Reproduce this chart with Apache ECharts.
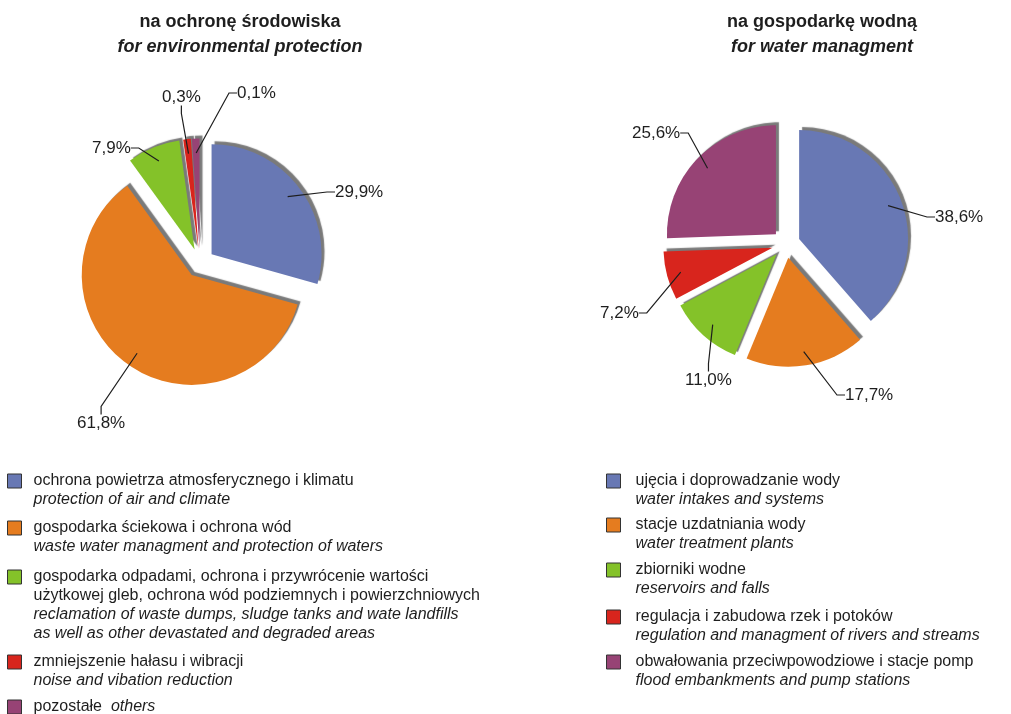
<!DOCTYPE html>
<html><head><meta charset="utf-8">
<script src="https://cdn.jsdelivr.net/npm/echarts@6/dist/echarts.min.js"></script>
<style>html,body{margin:0;padding:0;background:#fff}#c{width:1011px;height:714px}</style>
</head><body><div id="c"></div>
<script>
// ---- data ----
const envTitle = ['na ochronę środowiska', 'for environmental protection'];
const waterTitle = ['na gospodarkę wodną', 'for water managment'];

const envCategoriesPl = [
  'ochrona powietrza atmosferycznego i klimatu',
  'gospodarka ściekowa i ochrona wód',
  'gospodarka odpadami, ochrona i przywrócenie wartości\nużytkowej gleb, ochrona wód podziemnych i powierzchniowych',
  'zmniejszenie hałasu i wibracji',
  'pozostałe'
];
const envCategoriesEn = [
  'protection of air and climate',
  'waste water managment and protection of waters',
  'reclamation of waste dumps, sludge tanks and wate landfills\nas well as other devastated and degraded areas',
  'noise and vibation reduction',
  'others'
];
const envValues = [29.9, 61.8, 7.9, 0.3, 0.1];

const waterCategoriesPl = [
  'ujęcia i doprowadzanie wody',
  'stacje uzdatniania wody',
  'zbiorniki wodne',
  'regulacja i zabudowa rzek i potoków',
  'obwałowania przeciwpowodziowe i stacje pomp'
];
const waterCategoriesEn = [
  'water intakes and systems',
  'water treatment plants',
  'reservoirs and falls',
  'regulation and managment of rivers and streams',
  'flood embankments and pump stations'
];
const waterValues = [38.6, 17.7, 11.0, 7.2, 25.6];

const sliceColors = ['#6878b4', '#e57c1f', '#84c229', '#d8251d', '#974375'];

// ---- layout (positions, not data) ----
const envLabelPos = [[335, 192], [77, 423], [92, 148], [162, 97], [237, 93]];
const waterLabelPos = [[935, 217], [845, 395], [685, 380], [600, 313], [632, 133]];
const envLegendY = [481, 528, 577, 662, 707];
const waterLegendY = [481, 525, 570, 617, 662];

const FONT = "'Liberation Sans', Arial, sans-serif";
const TXT = '#1e1e1e';
const LH = 19;

function fmtPct(v) { return v.toFixed(1).replace('.', ',') + '%'; }

function legendText(pl, en) {
  const plL = pl.split('\n'), enL = en.split('\n');
  if (plL.length === 1 && enL.length === 1 && (pl + en).length < 20) {
    return { text: '{pl|' + pl + '  }{en|' + en + '}', lines: 1 };
  }
  return {
    text: plL.map(s => '{pl|' + s + '}').concat(enL.map(s => '{en|' + s + '}')).join('\n'),
    lines: plL.length + enL.length
  };
}

function buildLegends(pls, ens, iconLeft, textPad, ys) {
  return pls.map((pl, i) => {
    const t = legendText(pl, ens[i]);
    return {
      data: [{ name: pl, itemStyle: { color: sliceColors[i] } }],
      left: iconLeft, top: ys[i] - (2 * t.lines - 1) * LH / 2,
      orient: 'vertical', padding: 0, itemGap: 0, itemWidth: 14, itemHeight: 14,
      icon: 'rect', selectedMode: false,
      itemStyle: { borderColor: '#333333', borderWidth: 1, shadowBlur: 0, shadowOffsetX: 0, shadowOffsetY: 0, shadowColor: 'transparent' },
      formatter: () => t.text,
      textStyle: {
        padding: [(t.lines - 1) * LH, 0, 0, textPad], lineHeight: LH, fontSize: 16, fontFamily: FONT, color: TXT,
        rich: {
          pl: { fontSize: 16, lineHeight: LH, fontFamily: FONT, color: TXT },
          en: { fontSize: 16, lineHeight: LH, fontFamily: FONT, color: TXT, fontStyle: 'italic' }
        }
      }
    };
  });
}

// visible, exploded slices
function pieSlices(pls, values, center, radius, offset) {
  return {
    type: 'pie', center: center, radius: [0, radius], startAngle: 90, clockwise: true, minAngle: 4,
    avoidLabelOverlap: false, selectedMode: 'multiple', selectedOffset: offset, animation: false,
    data: values.map((v, i) => ({ name: pls[i], value: v, selected: true, itemStyle: { color: sliceColors[i] } })),
    itemStyle: { shadowColor: 'rgba(115,115,115,0.95)', shadowBlur: 1, shadowOffsetX: 3, shadowOffsetY: -3, borderWidth: 0 },
    select: { itemStyle: { borderWidth: 0 } },
    emphasis: { disabled: true },
    label: { show: false }, labelLine: { show: false }
  };
}

// percentage labels with leader lines (same angles, transparent sectors)
function pieLabels(pls, values, center, radius, labelPos) {
  return {
    type: 'pie', center: center, radius: [0, radius], startAngle: 90, clockwise: true, minAngle: 4,
    avoidLabelOverlap: false, selectedMode: false, animation: false, silent: true, z: 5,
    data: values.map((v, i) => ({ name: pls[i], value: v })),
    itemStyle: { color: 'rgba(255,255,255,0)', borderWidth: 0 },
    emphasis: { disabled: true },
    label: { show: true, position: 'outside', formatter: p => fmtPct(p.value), fontSize: 17, fontFamily: FONT, color: TXT },
    labelLine: { show: true, length: 10, length2: 8, lineStyle: { color: TXT, width: 1.2 } },
    labelLayout: p => ({ x: labelPos[p.dataIndex][0], y: labelPos[p.dataIndex][1], align: 'left', verticalAlign: 'middle' })
  };
}

function titleOf(t, cx) {
  return {
    text: t[0], subtext: t[1], left: cx, top: 10, textAlign: 'center', padding: 0, itemGap: 1,
    textStyle: { fontFamily: FONT, fontWeight: 'bold', fontSize: 18, color: TXT, lineHeight: 24 },
    subtextStyle: { fontFamily: FONT, fontWeight: 'bold', fontStyle: 'italic', fontSize: 18, color: TXT, lineHeight: 24 }
  };
}

const chart = echarts.init(document.getElementById('c'), null, { renderer: 'canvas' });
chart.setOption({
  backgroundColor: '#ffffff',
  animation: false,
  title: [titleOf(envTitle, 240), titleOf(waterTitle, 822)],
  legend: buildLegends(envCategoriesPl, envCategoriesEn, 7, 7, envLegendY)
    .concat(buildLegends(waterCategoriesPl, waterCategoriesEn, 606, 10, waterLegendY)),
  series: [
    pieSlices(envCategoriesPl, envValues, [200, 263], 110, 14.5),
    pieSlices(waterCategoriesPl, waterValues, [786, 244], 109, 14),
    pieLabels(envCategoriesPl, envValues, [200, 263], 110, envLabelPos),
    pieLabels(waterCategoriesPl, waterValues, [786, 244], 109, waterLabelPos)
  ]
});
</script>
</body></html>
